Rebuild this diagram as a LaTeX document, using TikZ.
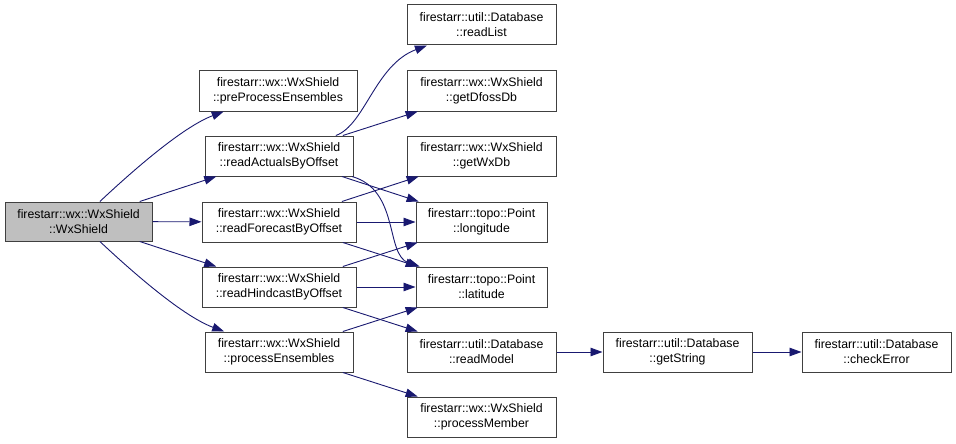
\documentclass[tikz,border=0pt]{standalone}
\usepackage{fontspec}
\setmainfont{Liberation Sans}
\usetikzlibrary{arrows.meta}
\definecolor{edgeblue}{HTML}{191970}
\definecolor{boxline}{HTML}{404040}
\definecolor{rootfill}{HTML}{BFBFBF}
\tikzset{
  fn/.style={draw=boxline, line width=1pt, fill=white, inner sep=0pt,
    minimum height=40pt, align=center,
    font=\fontsize{12.3}{15}\selectfont},
  call/.style={draw=edgeblue, line width=0.9pt,
    -{Triangle[length=12pt,width=8.5pt,fill=edgeblue]}},
}
\begin{document}
\begin{tikzpicture}[x=1pt,y=-1pt]
\useasboundingbox (0,0) rectangle (956,444);
% nodes
\node[fn, fill=rootfill, minimum width=147pt, minimum height=39pt] (root) at (78.5,221.5) {firestarr::wx::WxShield\\::WxShield};
\node[fn, minimum width=158pt] (pre) at (278,91) {firestarr::wx::WxShield\\::preProcessEnsembles};
\node[fn, minimum width=148pt] (ra) at (279,156) {firestarr::wx::WxShield\\::readActualsByOffset};
\node[fn, minimum width=154pt] (rf) at (279,222) {firestarr::wx::WxShield\\::readForecastByOffset};
\node[fn, minimum width=154pt] (rh) at (279,287) {firestarr::wx::WxShield\\::readHindcastByOffset};
\node[fn, minimum width=148pt] (pe) at (279,352) {firestarr::wx::WxShield\\::processEnsembles};
\node[fn, minimum width=149pt] (rl) at (481.5,25) {firestarr::util::Database\\::readList};
\node[fn, minimum width=149pt] (gd) at (481.5,91) {firestarr::wx::WxShield\\::getDfossDb};
\node[fn, minimum width=149pt] (gw) at (481.5,156) {firestarr::wx::WxShield\\::getWxDb};
\node[fn, minimum width=131pt] (lon) at (481.5,222) {firestarr::topo::Point\\::longitude};
\node[fn, minimum width=131pt] (lat) at (481.5,287) {firestarr::topo::Point\\::latitude};
\node[fn, minimum width=149pt] (rm) at (481.5,352) {firestarr::util::Database\\::readModel};
\node[fn, minimum width=149pt] (pm) at (481.5,417) {firestarr::wx::WxShield\\::processMember};
\node[fn, minimum width=149pt] (gs) at (677.5,352) {firestarr::util::Database\\::getString};
\node[fn, minimum width=149pt] (ce) at (876.5,352) {firestarr::util::Database\\::checkError};
% edges from root
\draw[call] (root) .. controls (125,178) and (180,128) .. (pre);
\draw[call] (root) -- (ra);
\draw[call] (root) -- (rf);
\draw[call] (root) -- (rh);
\draw[call] (root) .. controls (125,265) and (180,315) .. (pe);
% readActualsByOffset
\draw[call] (ra) .. controls (365,125) and (375,65) .. (rl);
\draw[call] (ra) -- (gd);
\draw[call] (ra) -- (lon);
\draw[call] (ra) .. controls (400,190) and (385,255) .. (lat);
% readForecastByOffset
\draw[call] (rf) -- (gw);
\draw[call] (rf) -- (lon);
\draw[call] (rf) -- (lat);
% readHindcastByOffset
\draw[call] (rh) -- (lon);
\draw[call] (rh) -- (lat);
\draw[call] (rh) -- (rm);
% processEnsembles
\draw[call] (pe) -- (lat);
\draw[call] (pe) -- (pm);
% chain
\draw[call] (rm) -- (gs);
\draw[call] (gs) -- (ce);
\end{tikzpicture}
\end{document}
